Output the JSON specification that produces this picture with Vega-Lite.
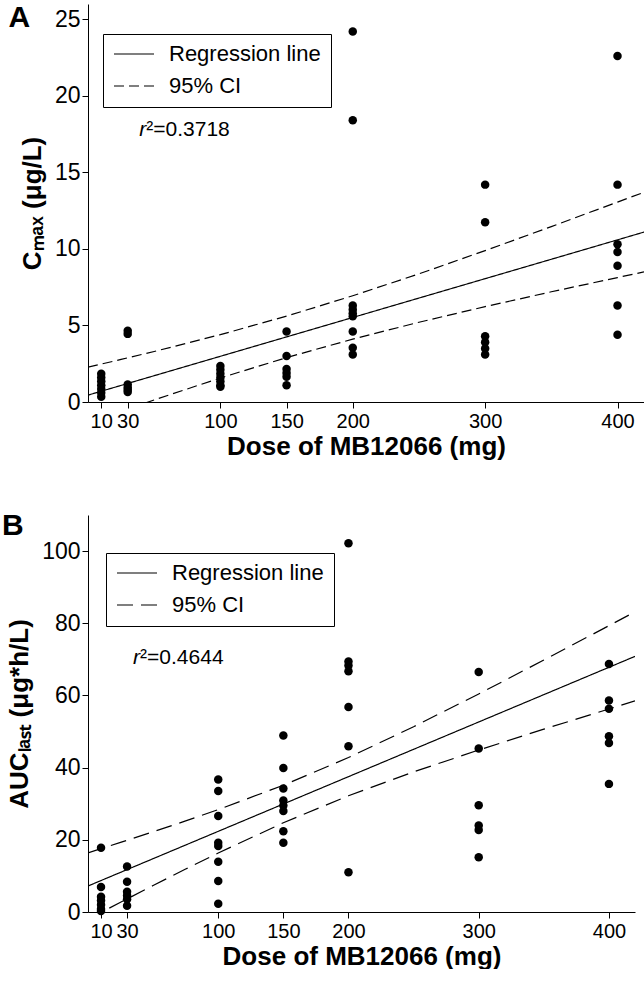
{
  "$schema": "https://vega.github.io/schema/vega-lite/v6.json",
  "padding": {"left": 2, "top": 2, "right": 0, "bottom": 0},
  "spacing": 52,
  "config": {
    "font": "Liberation Sans",
    "view": {"stroke": null},
    "axis": {
      "grid": false,
      "domainColor": "black",
      "domainWidth": 1,
      "tickColor": "black",
      "tickWidth": 1,
      "tickSize": 6,
      "labelColor": "black",
      "labelFontSize": 20,
      "labelOverlap": false,
      "labelBound": false,
      "labelFlush": false,
      "titleColor": "black",
      "titleFontSize": 26,
      "titleFontWeight": "bold"
    },
    "axisY": {"labelFontSize": 23},
    "legend": {
      "orient": "none",
      "title": null,
      "strokeColor": "black",
      "padding": 10,
      "labelFontSize": 22,
      "labelColor": "black",
      "labelOffset": 14,
      "symbolSize": 1600,
      "symbolStrokeColor": "black",
      "symbolStrokeWidth": 1.2,
      "clipHeight": 20,
      "rowPadding": 10
    }
  },
  "datasets": {
    "ptsA": [
      {"dose": 10, "value": 1.85}, {"dose": 10, "value": 1.6}, {"dose": 10, "value": 1.35}, {"dose": 10, "value": 1.1}, {"dose": 10, "value": 0.85}, {"dose": 10, "value": 0.6}, {"dose": 10, "value": 0.35},
      {"dose": 30, "value": 4.65}, {"dose": 30, "value": 4.45}, {"dose": 30, "value": 1.15}, {"dose": 30, "value": 0.95}, {"dose": 30, "value": 0.8}, {"dose": 30, "value": 0.65},
      {"dose": 100, "value": 2.35}, {"dose": 100, "value": 2.1}, {"dose": 100, "value": 1.85}, {"dose": 100, "value": 1.6}, {"dose": 100, "value": 1.35}, {"dose": 100, "value": 1.1}, {"dose": 100, "value": 1.0},
      {"dose": 150, "value": 4.6}, {"dose": 150, "value": 3.0}, {"dose": 150, "value": 2.15}, {"dose": 150, "value": 1.9}, {"dose": 150, "value": 1.65}, {"dose": 150, "value": 1.1},
      {"dose": 200, "value": 24.2}, {"dose": 200, "value": 18.4}, {"dose": 200, "value": 6.3}, {"dose": 200, "value": 6.05}, {"dose": 200, "value": 5.8}, {"dose": 200, "value": 5.6}, {"dose": 200, "value": 4.6}, {"dose": 200, "value": 3.55}, {"dose": 200, "value": 3.1},
      {"dose": 300, "value": 14.2}, {"dose": 300, "value": 11.75}, {"dose": 300, "value": 4.3}, {"dose": 300, "value": 3.9}, {"dose": 300, "value": 3.5}, {"dose": 300, "value": 3.1},
      {"dose": 400, "value": 22.6}, {"dose": 400, "value": 14.2}, {"dose": 400, "value": 10.3}, {"dose": 400, "value": 9.8}, {"dose": 400, "value": 8.9}, {"dose": 400, "value": 6.3}, {"dose": 400, "value": 4.4}
    ],
    "linesA": [
      {"series": "Regression line", "part": "reg", "dose": 0, "value": 0.45},
      {"series": "Regression line", "part": "reg", "dose": 420, "value": 11.1},
      {"series": "95% CI", "part": "upper", "dose": 0, "value": 2.28},
      {"series": "95% CI", "part": "upper", "dose": 25, "value": 2.78},
      {"series": "95% CI", "part": "upper", "dose": 50, "value": 3.3},
      {"series": "95% CI", "part": "upper", "dose": 100, "value": 4.4},
      {"series": "95% CI", "part": "upper", "dose": 150, "value": 5.61},
      {"series": "95% CI", "part": "upper", "dose": 200, "value": 6.94},
      {"series": "95% CI", "part": "upper", "dose": 250, "value": 8.37},
      {"series": "95% CI", "part": "upper", "dose": 300, "value": 9.89},
      {"series": "95% CI", "part": "upper", "dose": 350, "value": 11.46},
      {"series": "95% CI", "part": "upper", "dose": 400, "value": 13.06},
      {"series": "95% CI", "part": "upper", "dose": 420, "value": 13.7},
      {"series": "95% CI", "part": "lower", "dose": 0, "value": -1.38},
      {"series": "95% CI", "part": "lower", "dose": 25, "value": -0.62},
      {"series": "95% CI", "part": "lower", "dose": 50, "value": 0.135},
      {"series": "95% CI", "part": "lower", "dose": 100, "value": 1.57},
      {"series": "95% CI", "part": "lower", "dose": 150, "value": 2.9},
      {"series": "95% CI", "part": "lower", "dose": 200, "value": 4.11},
      {"series": "95% CI", "part": "lower", "dose": 250, "value": 5.21},
      {"series": "95% CI", "part": "lower", "dose": 300, "value": 6.23},
      {"series": "95% CI", "part": "lower", "dose": 350, "value": 7.2},
      {"series": "95% CI", "part": "lower", "dose": 400, "value": 8.13},
      {"series": "95% CI", "part": "lower", "dose": 420, "value": 8.5}
    ],
    "ptsB": [
      {"dose": 10, "value": 17.8}, {"dose": 10, "value": 6.9}, {"dose": 10, "value": 4.2}, {"dose": 10, "value": 3.2}, {"dose": 10, "value": 2.0}, {"dose": 10, "value": 0.8}, {"dose": 10, "value": 0.3},
      {"dose": 30, "value": 12.6}, {"dose": 30, "value": 8.4}, {"dose": 30, "value": 5.6}, {"dose": 30, "value": 4.6}, {"dose": 30, "value": 3.5}, {"dose": 30, "value": 1.7},
      {"dose": 100, "value": 36.7}, {"dose": 100, "value": 33.5}, {"dose": 100, "value": 26.6}, {"dose": 100, "value": 19.2}, {"dose": 100, "value": 18.3}, {"dose": 100, "value": 13.9}, {"dose": 100, "value": 8.6}, {"dose": 100, "value": 2.3},
      {"dose": 150, "value": 48.9}, {"dose": 150, "value": 39.9}, {"dose": 150, "value": 34.2}, {"dose": 150, "value": 30.9}, {"dose": 150, "value": 29.5}, {"dose": 150, "value": 28.0}, {"dose": 150, "value": 22.4}, {"dose": 150, "value": 19.2},
      {"dose": 200, "value": 102.2}, {"dose": 200, "value": 69.4}, {"dose": 200, "value": 68.3}, {"dose": 200, "value": 66.7}, {"dose": 200, "value": 56.8}, {"dose": 200, "value": 45.9}, {"dose": 200, "value": 11.0},
      {"dose": 300, "value": 66.5}, {"dose": 300, "value": 45.3}, {"dose": 300, "value": 29.6}, {"dose": 300, "value": 24.0}, {"dose": 300, "value": 22.7}, {"dose": 300, "value": 15.2},
      {"dose": 400, "value": 68.7}, {"dose": 400, "value": 58.6}, {"dose": 400, "value": 56.3}, {"dose": 400, "value": 48.7}, {"dose": 400, "value": 46.8}, {"dose": 400, "value": 35.5}
    ],
    "linesB": [
      {"series": "Regression line", "part": "reg", "dose": 0, "value": 7.2},
      {"series": "Regression line", "part": "reg", "dose": 420, "value": 70.83},
      {"series": "95% CI", "part": "upper", "dose": 0, "value": 16.4},
      {"series": "95% CI", "part": "upper", "dose": 25, "value": 19.28},
      {"series": "95% CI", "part": "upper", "dose": 50, "value": 22.22},
      {"series": "95% CI", "part": "upper", "dose": 75, "value": 25.23},
      {"series": "95% CI", "part": "upper", "dose": 100, "value": 28.36},
      {"series": "95% CI", "part": "upper", "dose": 150, "value": 35.13},
      {"series": "95% CI", "part": "upper", "dose": 200, "value": 42.79},
      {"series": "95% CI", "part": "upper", "dose": 250, "value": 51.34},
      {"series": "95% CI", "part": "upper", "dose": 300, "value": 60.42},
      {"series": "95% CI", "part": "upper", "dose": 350, "value": 69.8},
      {"series": "95% CI", "part": "upper", "dose": 400, "value": 79.34},
      {"series": "95% CI", "part": "upper", "dose": 420, "value": 83.18},
      {"series": "95% CI", "part": "lower", "dose": 0, "value": -2.0},
      {"series": "95% CI", "part": "lower", "dose": 25, "value": 2.7},
      {"series": "95% CI", "part": "lower", "dose": 50, "value": 7.34},
      {"series": "95% CI", "part": "lower", "dose": 75, "value": 11.89},
      {"series": "95% CI", "part": "lower", "dose": 100, "value": 16.34},
      {"series": "95% CI", "part": "lower", "dose": 150, "value": 24.73},
      {"series": "95% CI", "part": "lower", "dose": 200, "value": 32.21},
      {"series": "95% CI", "part": "lower", "dose": 250, "value": 38.82},
      {"series": "95% CI", "part": "lower", "dose": 300, "value": 44.88},
      {"series": "95% CI", "part": "lower", "dose": 350, "value": 50.66},
      {"series": "95% CI", "part": "lower", "dose": 400, "value": 56.26},
      {"series": "95% CI", "part": "lower", "dose": 420, "value": 58.48}
    ]
  },
  "vconcat": [
    {
      "width": 556,
      "height": 398,
      "encoding": {
        "x": {"type": "quantitative", "scale": {"domain": [0, 420], "nice": false}, "axis": {"values": [10, 30, 100, 150, 200, 300, 400], "title": "Dose of MB12066 (mg)", "labelPadding": 3, "titlePadding": 2}},
        "y": {"type": "quantitative", "scale": {"domain": [0, 26], "nice": false}, "axis": {"values": [0, 5, 10, 15, 20, 25], "title": "Cₘₐₓ (μg/L)", "labelPadding": 2, "titlePadding": 9}}
      },
      "layer": [
        {
          "data": {"name": "linesA"},
          "mark": {"type": "line", "clip": true, "color": "black", "strokeWidth": 1.2},
          "encoding": {
            "x": {"field": "dose"},
            "y": {"field": "value"},
            "detail": {"field": "part"},
            "strokeDash": {"field": "series", "type": "nominal", "scale": {"domain": ["Regression line", "95% CI"], "range": [[1, 0], [10, 5]]}, "legend": {"legendX": 15, "legendY": 30}}
          }
        },
        {
          "data": {"name": "ptsA"},
          "mark": {"type": "circle", "size": 72, "color": "black", "opacity": 1},
          "encoding": {"x": {"field": "dose"}, "y": {"field": "value"}}
        },
        {
          "data": {"values": [{"label": "A"}]},
          "mark": {"type": "text", "fontSize": 30, "fontWeight": "bold", "align": "left", "baseline": "alphabetic", "color": "black"},
          "encoding": {"x": {"datum": -60}, "y": {"datum": 24.5}, "text": {"field": "label"}}
        },
        {
          "data": {"values": [{"label": "r"}]},
          "mark": {"type": "text", "fontSize": 21, "fontStyle": "italic", "align": "right", "baseline": "middle", "color": "black"},
          "encoding": {"x": {"datum": 44}, "y": {"datum": 17.75}, "text": {"field": "label"}}
        },
        {
          "data": {"values": [{"label": "²=0.3718"}]},
          "mark": {"type": "text", "fontSize": 21, "align": "left", "baseline": "middle", "color": "black"},
          "encoding": {"x": {"datum": 44}, "y": {"datum": 17.75}, "text": {"field": "label"}}
        }
      ]
    },
    {
      "width": 547,
      "height": 397,
      "encoding": {
        "x": {"type": "quantitative", "scale": {"domain": [0, 420], "nice": false}, "axis": {"values": [10, 30, 100, 150, 200, 300, 400], "title": "Dose of MB12066 (mg)", "labelPadding": 3, "titlePadding": 2}},
        "y": {"type": "quantitative", "scale": {"domain": [0, 110], "nice": false}, "axis": {"values": [0, 20, 40, 60, 80, 100], "title": "AUCₗₐₛₜ (μg*h/L)", "labelPadding": 2, "titlePadding": 9}}
      },
      "layer": [
        {
          "data": {"name": "linesB"},
          "mark": {"type": "line", "clip": true, "color": "black", "strokeWidth": 1.2},
          "encoding": {
            "x": {"field": "dose"},
            "y": {"field": "value"},
            "detail": {"field": "part"},
            "strokeDash": {"field": "series", "type": "nominal", "scale": {"domain": ["Regression line", "95% CI"], "range": [[1, 0], [16, 8]]}, "legend": {"legendX": 18, "legendY": 38}}
          }
        },
        {
          "data": {"name": "ptsB"},
          "mark": {"type": "circle", "size": 72, "color": "black", "opacity": 1},
          "encoding": {"x": {"field": "dose"}, "y": {"field": "value"}}
        },
        {
          "data": {"values": [{"label": "B"}]},
          "mark": {"type": "text", "fontSize": 30, "fontWeight": "bold", "align": "left", "baseline": "alphabetic", "color": "black"},
          "encoding": {"x": {"datum": -66}, "y": {"datum": 104.4}, "text": {"field": "label"}}
        },
        {
          "data": {"values": [{"label": "r"}]},
          "mark": {"type": "text", "fontSize": 21, "fontStyle": "italic", "align": "right", "baseline": "middle", "color": "black"},
          "encoding": {"x": {"datum": 40}, "y": {"datum": 70.3}, "text": {"field": "label"}}
        },
        {
          "data": {"values": [{"label": "²=0.4644"}]},
          "mark": {"type": "text", "fontSize": 21, "align": "left", "baseline": "middle", "color": "black"},
          "encoding": {"x": {"datum": 40}, "y": {"datum": 70.3}, "text": {"field": "label"}}
        }
      ]
    }
  ],
  "resolve": {"scale": {"strokeDash": "independent"}, "legend": {"strokeDash": "independent"}}
}
